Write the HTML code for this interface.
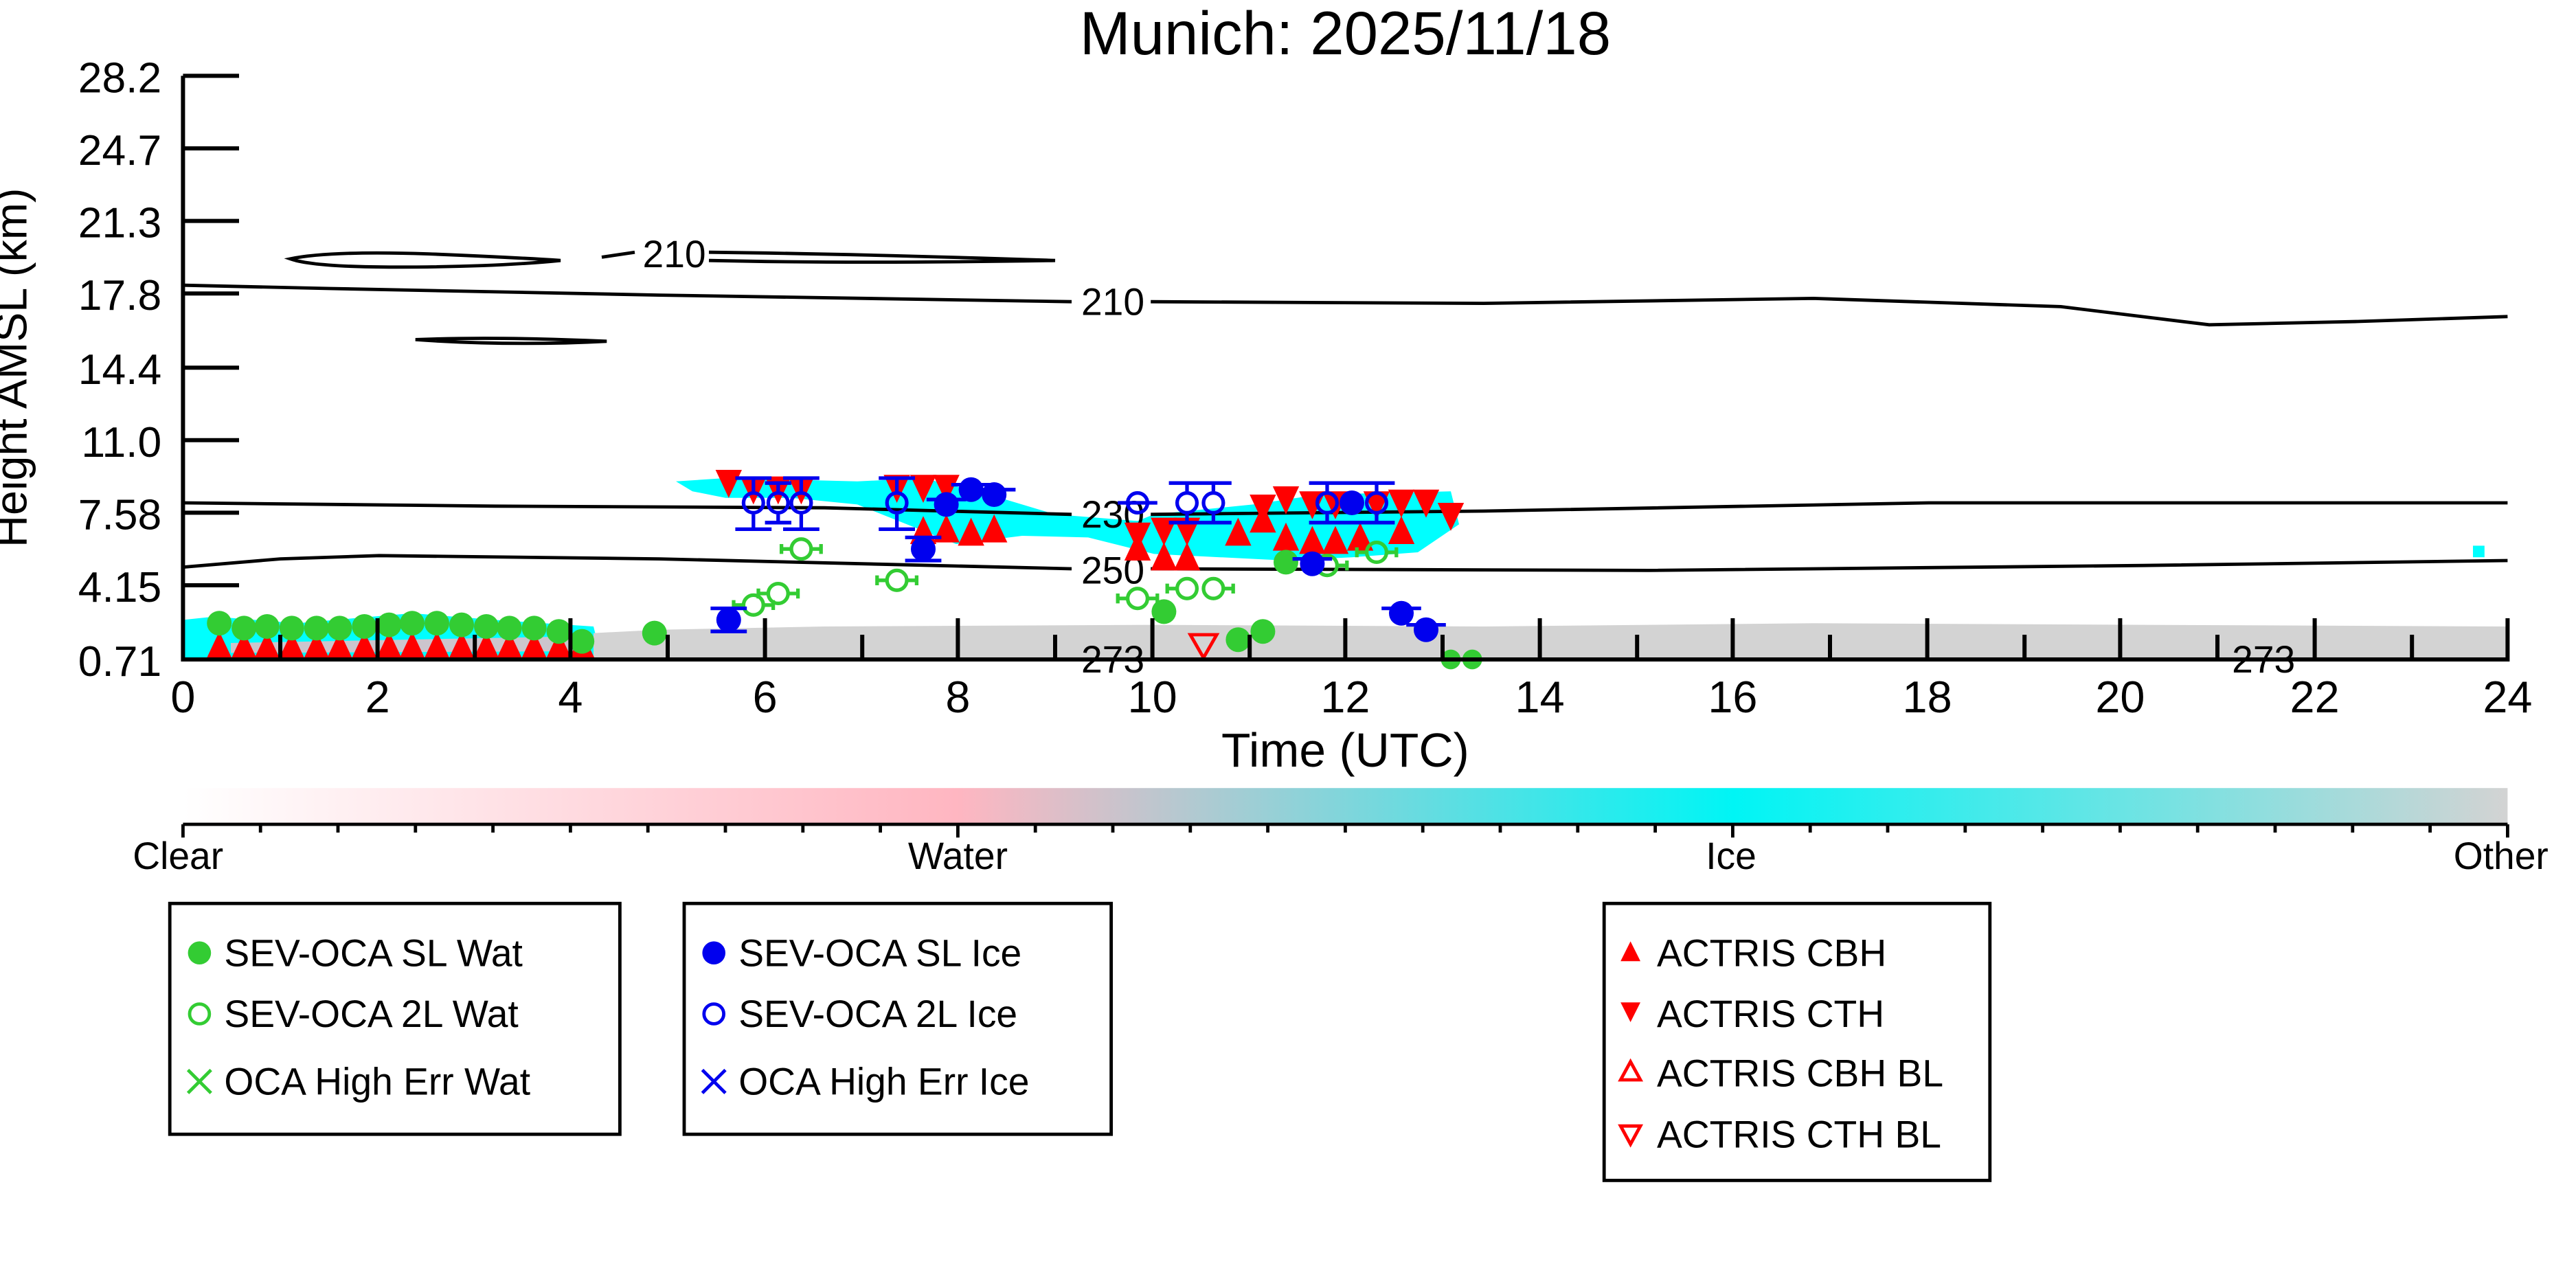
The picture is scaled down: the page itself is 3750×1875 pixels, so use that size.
<!DOCTYPE html>
<html><head><meta charset="utf-8"><style>html,body{margin:0;padding:0;background:#fff}svg{display:block}</style></head>
<body>
<svg width="3750" height="1875" viewBox="0 0 1562.5 781.25" xmlns="http://www.w3.org/2000/svg" font-family="Liberation Sans, DejaVu Sans, sans-serif">
<defs>
<linearGradient id="cb" x1="0" x2="1" y1="0" y2="0">
<stop offset="0" stop-color="#ffffff"/><stop offset="0.333" stop-color="#ffb6c1"/><stop offset="0.667" stop-color="#00f5f5"/><stop offset="1" stop-color="#d3d3d3"/>
</linearGradient>
<path id="tu" d="M0,-9 L8,8 L-8,8Z"/>
<path id="td" d="M0,9 L8,-8 L-8,-8Z"/>
</defs>
<rect width="1562.5" height="781.25" fill="#fff"/>
<text x="816" y="33" font-size="37" text-anchor="middle">Munich: 2025/11/18</text>
<!-- background fields -->
<path d="M111,376 L130,374 L180,378 L250,372 L300,376 L360,380 L365,400 L111,400Z" fill="#00ffff"/>
<path d="M140,390 L350,386 L352,395 L140,396Z" fill="#ffb6c1" opacity="0.8"/>
<path d="M360,384 L400,382 L500,380 L700,379 L900,380 L1100,378 L1300,379 L1521,380 L1521,400 L360,400Z" fill="#d3d3d3"/>
<path d="M410,292 L440,290 L520,292 L560,290 L600,300 L640,312 L690,316 L700,312 L760,306 L800,300 L880,298 L885,318 L860,335 L820,338 L780,340 L740,338 L700,336 L660,326 L620,325 L580,330 L560,322 L520,306 L480,302 L440,302 L420,298Z" fill="#00ffff"/>
<rect x="1500" y="331" width="7" height="7" fill="#00ffff"/>
<!-- contours -->
<g fill="none" stroke="#000" stroke-width="2">
<path d="M111,173 L200,175 L400,179 L650,183"/>
<path d="M698,183 L900,184 L1100,181 L1250,186 L1340,197 L1430,195 L1521,192"/>
<path d="M176,157 Q200,152 260,154 Q310,156 340,158 Q300,162 240,162 Q190,162 176,157Z"/>
<path d="M252,206 Q300,204 368,207 Q310,210 252,206Z"/>
<path d="M365,156 L385,153 M430,153 Q520,154 640,158 Q520,160 430,158"/>
<path d="M111,305 L300,307 L500,308 L650,312"/>
<path d="M698,312 L900,310 L1170,305 L1521,305"/>
<path d="M111,344 L170,339 L230,337 L400,339 L650,345"/>
<path d="M698,345 L1000,346 L1300,343 L1521,340"/>
</g>
<g font-size="23" text-anchor="middle">
<text x="409" y="162">210</text><text x="675" y="191">210</text>
<text x="675" y="320">230</text><text x="675" y="354">250</text>
<text x="675" y="408">273</text><text x="1373" y="408">273</text>
</g>
<!-- red triangles bottom -->
<g fill="#f00">
<use href="#tu" x="133" y="392"/><use href="#tu" x="148" y="392"/><use href="#tu" x="162" y="392"/><use href="#tu" x="177" y="392"/><use href="#tu" x="192" y="392"/><use href="#tu" x="206" y="392"/><use href="#tu" x="221" y="392"/><use href="#tu" x="236" y="392"/><use href="#tu" x="250" y="392"/><use href="#tu" x="265" y="392"/><use href="#tu" x="280" y="392"/><use href="#tu" x="295" y="392"/><use href="#tu" x="309" y="392"/><use href="#tu" x="324" y="392"/><use href="#tu" x="339" y="392"/><use href="#tu" x="353" y="392"/>
<!-- CTH -->
<use href="#td" x="442" y="293"/><use href="#td" x="457" y="297"/><use href="#td" x="472" y="297"/><use href="#td" x="486" y="297"/>
<use href="#td" x="544" y="296"/><use href="#td" x="560" y="296"/><use href="#td" x="574" y="296"/>
<use href="#td" x="690" y="325"/><use href="#td" x="706" y="322"/><use href="#td" x="720" y="322"/>
<use href="#td" x="766" y="308"/><use href="#td" x="780" y="303"/><use href="#td" x="796" y="306"/><use href="#td" x="810" y="306"/><use href="#td" x="835" y="306"/><use href="#td" x="850" y="305"/><use href="#td" x="865" y="305"/><use href="#td" x="880" y="313"/>
<!-- CBH -->
<use href="#tu" x="560" y="322"/><use href="#tu" x="574" y="321"/><use href="#tu" x="589" y="323"/><use href="#tu" x="603" y="321"/>
<use href="#tu" x="690" y="332"/><use href="#tu" x="706" y="338"/><use href="#tu" x="720" y="338"/><use href="#tu" x="751" y="323"/><use href="#tu" x="766" y="315"/><use href="#tu" x="780" y="326"/><use href="#tu" x="796" y="328"/><use href="#tu" x="810" y="328"/><use href="#tu" x="825" y="326"/><use href="#tu" x="850" y="322"/>
</g>
<path d="M722,385 L738,385 L730,399Z" fill="none" stroke="#f00" stroke-width="2"/>
<!-- green filled -->
<g fill="#33cc33">
<circle cx="133" cy="378" r="7.5"/><circle cx="148" cy="381" r="7.5"/><circle cx="162" cy="380" r="7.5"/><circle cx="177" cy="381" r="7.5"/><circle cx="192" cy="381" r="7.5"/><circle cx="206" cy="381" r="7.5"/><circle cx="221" cy="380" r="7.5"/><circle cx="236" cy="379" r="7.5"/><circle cx="250" cy="378" r="7.5"/><circle cx="265" cy="378" r="7.5"/><circle cx="280" cy="379" r="7.5"/><circle cx="295" cy="380" r="7.5"/><circle cx="309" cy="381" r="7.5"/><circle cx="324" cy="381" r="7.5"/><circle cx="339" cy="383" r="7.5"/><circle cx="353" cy="389" r="7.5"/><circle cx="397" cy="384" r="7.5"/>
<circle cx="706" cy="371" r="7.5"/><circle cx="780" cy="341" r="7.5"/><circle cx="766" cy="383" r="7.5"/><circle cx="751" cy="388" r="7.5"/><circle cx="880" cy="400" r="6"/><circle cx="893" cy="400" r="6"/>
</g>
<!-- green open -->
<g fill="none" stroke="#33cc33" stroke-width="2.2">
<circle cx="486" cy="333" r="6"/><circle cx="472" cy="360" r="6"/><circle cx="457" cy="367" r="6"/><circle cx="544" cy="352" r="6"/><circle cx="690" cy="363" r="6"/><circle cx="720" cy="357" r="6"/><circle cx="736" cy="357" r="6"/><circle cx="805" cy="343" r="6"/><circle cx="835" cy="335" r="6"/>
<path d="M474,330v6M498,330v6M460,357v6M484,357v6M445,364v6M469,364v6M532,349v6M556,349v6M678,360v6M702,360v6M708,354v6M748,354v6M793,340v6M817,340v6M823,332v6M847,332v6"/>
<path d="M474,333h6M492,333h6M460,360h6M478,360h6M445,367h6M463,367h6M532,352h6M550,352h6M678,363h6M696,363h6M708,357h6M742,357h6M793,343h6M811,343h6M823,335h6M841,335h6"/>
</g>
<!-- blue filled -->
<g fill="#0000ee">
<circle cx="442" cy="376" r="7.5"/><circle cx="560" cy="333" r="7.5"/><circle cx="574" cy="306" r="7.5"/><circle cx="589" cy="297" r="7.5"/><circle cx="603" cy="300" r="7.5"/><circle cx="796" cy="342" r="7.5"/><circle cx="820" cy="305" r="7.5"/><circle cx="850" cy="372" r="7.5"/><circle cx="865" cy="382" r="7.5"/>
</g>
<g stroke="#0000ee" stroke-width="2.2" fill="none">
<path d="M431,369h22M431,383h22M549,326h22M549,340h22M562,303h24M577,294h24M592,297h24M784,339h24M838,369h24M853,379h24"/>
<circle cx="457" cy="305" r="6"/><circle cx="472" cy="305" r="6"/><circle cx="486" cy="305" r="6"/><circle cx="544" cy="305" r="6"/><circle cx="690" cy="305" r="6"/><circle cx="720" cy="305" r="6"/><circle cx="736" cy="305" r="6"/><circle cx="805" cy="305" r="6"/><circle cx="835" cy="305" r="6"/>
<path d="M457,298v-8M457,312v9M472,298v-5M472,312v5M486,298v-8M486,312v9M544,298v-8M544,312v9M720,298v-5M720,312v5M736,298v-5M736,312v5M805,298v-5M805,312v5M835,298v-5M835,312v5"/>
<path d="M446,290h22M446,321h22M464,293h16M464,317h16M475,290h22M475,321h22M533,290h22M533,321h22M709,293h38M709,317h38M794,293h52M794,317h52M678,305h24"/>
</g>
<!-- axes -->
<g stroke="#000" stroke-width="2.5" fill="none">
<path d="M111,46 V400 H1521 V375"/>
<path d="M111,46h34M111,90h34M111,134h34M111,178h34M111,223h34M111,267h34M111,311h34M111,355h34"/>
<path d="M229,375v25M346,375v25M464,375v25M581,375v25M699,375v25M816,375v25M934,375v25M1051,375v25M1169,375v25M1286,375v25M1404,375v25"/>
<path d="M170,385v15M288,385v15M405,385v15M523,385v15M640,385v15M758,385v15M875,385v15M993,385v15M1110,385v15M1228,385v15M1345,385v15M1463,385v15"/>
</g>
<g font-size="26" text-anchor="end">
<text x="98" y="56">28.2</text><text x="98" y="100">24.7</text><text x="98" y="144">21.3</text><text x="98" y="188">17.8</text><text x="98" y="233">14.4</text><text x="98" y="277">11.0</text><text x="98" y="321">7.58</text><text x="98" y="365">4.15</text><text x="98" y="410">0.71</text>
</g>
<g font-size="27" text-anchor="middle">
<text x="111" y="432">0</text><text x="229" y="432">2</text><text x="346" y="432">4</text><text x="464" y="432">6</text><text x="581" y="432">8</text><text x="699" y="432">10</text><text x="816" y="432">12</text><text x="934" y="432">14</text><text x="1051" y="432">16</text><text x="1169" y="432">18</text><text x="1286" y="432">20</text><text x="1404" y="432">22</text><text x="1521" y="432">24</text>
</g>
<text x="816" y="465" font-size="29" text-anchor="middle">Time (UTC)</text>
<text transform="translate(16,223) rotate(-90)" font-size="27" text-anchor="middle">Height AMSL (km)</text>
<!-- colorbar -->
<rect x="111" y="478" width="1410" height="22" fill="url(#cb)"/>
<g stroke="#000" stroke-width="2">
<path d="M111,500H1521"/>
<path d="M111,500v8M581,500v8M1051,500v8M1521,500v8M158,500v5M205,500v5M252,500v5M299,500v5M346,500v5M393,500v5M440,500v5M487,500v5M534,500v5M628,500v5M675,500v5M722,500v5M769,500v5M816,500v5M863,500v5M910,500v5M957,500v5M1004,500v5M1098,500v5M1145,500v5M1192,500v5M1239,500v5M1286,500v5M1333,500v5M1380,500v5M1427,500v5M1474,500v5"/>
</g>
<g font-size="23" text-anchor="middle">
<text x="108" y="527">Clear</text><text x="581" y="527">Water</text><text x="1050" y="527">Ice</text><text x="1517" y="527">Other</text>
</g>
<!-- legends -->
<g fill="none" stroke="#000" stroke-width="2">
<rect x="103" y="548" width="273" height="140"/><rect x="415" y="548" width="259" height="140"/><rect x="973" y="548" width="234" height="168"/>
</g>
<g font-size="23">
<circle cx="121" cy="578" r="7" fill="#33cc33"/><text x="136" y="586">SEV-OCA SL Wat</text>
<circle cx="121" cy="615" r="6" fill="none" stroke="#33cc33" stroke-width="2"/><text x="136" y="623">SEV-OCA 2L Wat</text>
<path d="M114,649l14,14M128,649l-14,14" stroke="#33cc33" stroke-width="2"/><text x="136" y="664">OCA High Err Wat</text>
<circle cx="433" cy="578" r="7" fill="#0000ee"/><text x="448" y="586">SEV-OCA SL Ice</text>
<circle cx="433" cy="615" r="6" fill="none" stroke="#0000ee" stroke-width="2"/><text x="448" y="623">SEV-OCA 2L Ice</text>
<path d="M426,649l14,14M440,649l-14,14" stroke="#0000ee" stroke-width="2"/><text x="448" y="664">OCA High Err Ice</text>
<path d="M989,571l6,12h-12Z" fill="#f00"/><text x="1005" y="586">ACTRIS CBH</text>
<path d="M983,608h12l-6,12Z" fill="#f00"/><text x="1005" y="623">ACTRIS CTH</text>
<path d="M989,644l6,11h-12Z" fill="none" stroke="#f00" stroke-width="2"/><text x="1005" y="659">ACTRIS CBH BL</text>
<path d="M983,683h12l-6,11Z" fill="none" stroke="#f00" stroke-width="2"/><text x="1005" y="696">ACTRIS CTH BL</text>
</g>
</svg>
</body></html>
